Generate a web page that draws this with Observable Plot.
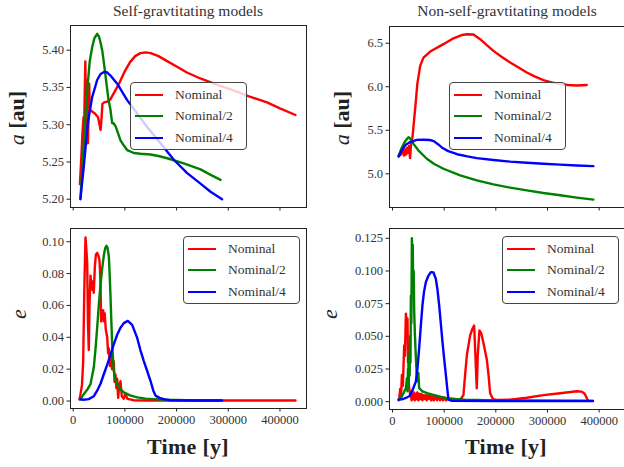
<!DOCTYPE html>
<html><head><meta charset="utf-8">
<script src="https://cdn.jsdelivr.net/npm/d3@7"></script>
<script src="https://cdn.jsdelivr.net/npm/@observablehq/plot@0.6"></script>
<style>
body{margin:0;background:#fff;}
#fig{position:relative;width:624px;height:467px;overflow:hidden;font-family:"Liberation Serif","DejaVu Serif",serif;color:#222;background:#fff;}
.panel{position:absolute;}
.title{position:absolute;font-size:15.5px;line-height:1;text-align:center;color:#333;white-space:nowrap;width:300px;}
.xlabel{position:absolute;font-size:22px;line-height:1;font-weight:bold;text-align:center;width:200px;color:#222;white-space:nowrap;letter-spacing:0.3px;}
.ylabel{position:absolute;font-size:22px;line-height:1;text-align:center;width:120px;height:24px;transform:rotate(-90deg);transform-origin:50% 50%;white-space:nowrap;color:#222;}
.legend{position:absolute;width:115px;height:66px;border:1px solid #444;border-radius:4px;background:rgba(255,255,255,0.8);}
.legend .row{position:absolute;left:0;height:20px;width:115px;}
.legend .sw{position:absolute;left:4px;top:9px;width:28px;height:2.2px;}
.legend .lt{position:absolute;left:44px;top:2px;font-size:13.5px;line-height:16px;color:#333;white-space:nowrap;}
</style></head>
<body><div id="fig"></div>
<script>
// ---- data ----
const seriesNames = ["Nominal", "Nominal/2", "Nominal/4"];
const seriesColors = ["red", "green", "blue"];
const xTicks = [0, 100000, 200000, 300000, 400000];
const titles = ["Self-gravtitating models", "Non-self-gravtitating models"];

// Self-gravitating: semi-major axis a [au]
const sgA_nominal = [[13000,5.22],[16000,5.26],[18000,5.29],[20000,5.31],[21000,5.28],[22000,5.33],[23500,5.385],[24500,5.32],[25500,5.36],[26500,5.28],[27500,5.35],[28500,5.275],[30000,5.32],[31000,5.355],[32000,5.32],[36000,5.318],[42000,5.315],[48000,5.31],[51000,5.30],[53000,5.293],[55000,5.31],[56500,5.328],[60000,5.330],[66000,5.331],[72000,5.334],[80000,5.344],[90000,5.357],[100000,5.372],[110000,5.384],[120000,5.392],[130000,5.396],[140000,5.397],[150000,5.396],[165000,5.392],[180000,5.386],[200000,5.378],[220000,5.370],[246000,5.362],[280000,5.353],[310000,5.346],[340000,5.338],[375000,5.330],[400000,5.322],[430000,5.313]];
const sgA_half = [[14000,5.201],[17000,5.235],[20500,5.275],[24000,5.315],[28200,5.355],[32000,5.385],[36700,5.404],[41000,5.416],[46400,5.422],[50000,5.418],[53000,5.41],[56100,5.40],[60000,5.38],[64400,5.355],[68000,5.335],[72100,5.32],[75400,5.302],[78000,5.302],[80000,5.30],[82000,5.298],[86000,5.29],[91500,5.279],[98000,5.272],[104400,5.266],[117200,5.262],[130000,5.261],[149500,5.260],[165000,5.258],[181800,5.255],[213900,5.248],[246300,5.240],[265000,5.233],[285000,5.226]];
const sgA_quarter = [[14000,5.200],[20500,5.244],[28200,5.302],[36700,5.337],[46400,5.360],[53000,5.368],[60500,5.371],[66000,5.370],[72100,5.366],[85100,5.355],[104400,5.333],[123800,5.315],[143100,5.297],[168900,5.275],[194600,5.253],[220500,5.235],[246300,5.221],[265600,5.210],[288000,5.200]];

// Non-self-gravitating: a [au]
const ngA_nominal = [[12000,5.20],[16000,5.22],[20000,5.27],[22000,5.21],[24000,5.28],[26000,5.22],[28000,5.30],[30000,5.24],[32000,5.32],[34000,5.18],[36000,5.35],[38700,5.42],[42000,5.63],[45300,5.84],[48000,6.03],[53600,6.24],[60000,6.335],[72900,6.404],[98600,6.489],[118000,6.557],[135000,6.595],[143900,6.603],[156700,6.60],[169600,6.546],[182000,6.48],[195400,6.412],[211000,6.345],[227700,6.278],[244000,6.22],[260000,6.164],[276000,6.117],[292100,6.077],[308000,6.05],[324400,6.03],[340000,6.02],[356700,6.015],[376000,6.02]];
const ngA_half = [[12000,5.21],[18000,5.30],[24000,5.37],[31000,5.42],[35000,5.40],[40600,5.344],[50000,5.27],[66500,5.173],[80000,5.115],[98600,5.058],[131000,4.982],[163200,4.924],[195400,4.879],[227700,4.841],[260000,4.81],[292100,4.779],[324400,4.753],[356700,4.727],[388800,4.704]];
const ngA_quarter = [[12000,5.20],[18000,5.27],[25000,5.33],[34200,5.365],[47000,5.39],[60000,5.392],[72000,5.388],[80000,5.375],[88000,5.34],[96000,5.30],[108000,5.26],[125000,5.225],[145000,5.20],[163200,5.18],[195400,5.158],[227700,5.14],[260000,5.127],[292100,5.115],[324400,5.105],[356700,5.096],[388800,5.088]];

// Self-gravitating: eccentricity e
const sgE_nominal = [[12000,0.001],[14000,0.004],[17000,0.010],[19300,0.025],[21500,0.07],[23800,0.1027],[25500,0.095],[27100,0.087],[28500,0.05],[30200,0.032],[31500,0.06],[33500,0.0787],[35500,0.07],[37500,0.075],[39800,0.068],[42000,0.085],[44000,0.092],[46400,0.093],[49000,0.091],[51000,0.088],[52800,0.075],[54000,0.05],[56100,0.056],[58000,0.057],[59200,0.05],[61000,0.055],[63000,0.045],[65800,0.04],[67500,0.03],[69000,0.033],[71000,0.022],[73000,0.03],[75000,0.02],[78500,0.025],[80000,0.012],[81800,0.0166],[83500,0.008],[85100,0.014],[87000,0.002],[89000,0.010],[91500,0.0124],[94000,0.003],[97900,0.0015],[101000,0.005],[104400,0.0015],[110000,0.001],[117200,0.0005],[140000,0.0003],[200000,0.0003],[300000,0.0003],[430000,0.0003]];
const sgE_half = [[14000,0.001],[20500,0.0043],[27000,0.007],[33500,0.0106],[39800,0.021],[43000,0.032],[46400,0.046],[49500,0.06],[52800,0.0727],[56000,0.083],[59200,0.0913],[62000,0.096],[64400,0.0975],[66500,0.096],[68900,0.091],[70500,0.08],[72100,0.0664],[73800,0.05],[75400,0.0354],[78500,0.0189],[82000,0.013],[85100,0.0106],[91000,0.0075],[97900,0.0054],[110000,0.0035],[123800,0.0023],[140000,0.0015],[155900,0.0012],[180000,0.0008],[220000,0.0005],[285000,0.0004]];
const sgE_quarter = [[14000,0.001],[20000,0.0008],[30000,0.0012],[40000,0.003],[46400,0.0065],[53000,0.011],[59200,0.0168],[66000,0.023],[72100,0.029],[78500,0.0355],[85100,0.0416],[91500,0.046],[97900,0.0489],[105600,0.0503],[114100,0.0478],[123800,0.0396],[130000,0.032],[136600,0.0251],[143000,0.019],[149500,0.0127],[155000,0.0065],[159200,0.0034],[167000,0.002],[175200,0.0012],[188000,0.0005],[250000,0.0003],[288000,0.0003]];

// Non-self-gravitating: e
const ngE_nominal = [[12000,0.001],[13000,0.0028],[15000,0.01],[16500,0.004],[18200,0.0205],[20000,0.012],[22600,0.043],[24000,0.035],[25900,0.0674],[27500,0.06],[29000,0.0636],[30000,0.03],[30900,0.033],[31500,0.015],[32300,0.0104],[34000,0.006],[35600,0.0053],[37000,0.001],[38000,0.006],[40000,0.002],[41500,0.007],[43000,0.001],[44500,0.006],[46000,0.002],[48000,0.007],[50000,0.001],[52000,0.006],[54000,0.002],[56000,0.006],[58000,0.001],[60000,0.005],[62000,0.002],[64000,0.005],[66000,0.001],[68000,0.005],[70000,0.002],[72500,0.005],[75000,0.001],[77500,0.004],[80000,0.001],[83000,0.004],[86000,0.001],[89000,0.004],[92000,0.001],[95000,0.003],[98000,0.001],[101000,0.003],[104000,0.001],[107000,0.003],[110000,0.0015],[120000,0.002],[131000,0.0015],[137300,0.005],[140000,0.018],[143900,0.0355],[150300,0.0507],[155000,0.056],[158000,0.0583],[160000,0.0406],[162000,0.02],[163200,0.0102],[165000,0.035],[168300,0.0545],[172000,0.052],[176000,0.045],[182600,0.032],[186000,0.02],[189000,0.0064],[194200,0.002],[201900,0.0013],[227700,0.0015],[260000,0.003],[292100,0.005],[324400,0.0064],[356700,0.0080],[366300,0.0077],[372000,0.006],[377200,0.0018],[379000,0.0005]];
const ngE_half = [[12000,0.0015],[18000,0.004],[22000,0.007],[25900,0.0104],[28000,0.018],[29000,0.008],[30000,0.025],[31000,0.012],[32300,0.0357],[33200,0.02],[34000,0.05],[34800,0.03],[35600,0.081],[36500,0.06],[37500,0.125],[38500,0.105],[39200,0.12],[40000,0.09],[41000,0.1],[42000,0.0687],[43500,0.05],[45300,0.0332],[47000,0.02],[48400,0.0155],[50000,0.022],[51600,0.0104],[55000,0.009],[58000,0.0079],[67000,0.0065],[77400,0.0053],[90000,0.004],[103300,0.0028],[120000,0.002],[140000,0.0015],[200000,0.001],[300000,0.0008],[388000,0.0006]];
const ngE_quarter = [[12000,0.0015],[20000,0.002],[27000,0.003],[32300,0.0041],[38000,0.008],[45300,0.0155],[48500,0.026],[51600,0.0408],[54800,0.058],[58000,0.0738],[61000,0.084],[64600,0.0915],[69000,0.096],[74300,0.0991],[79300,0.0988],[83900,0.094],[87000,0.086],[90300,0.0738],[93500,0.06],[96700,0.0459],[100000,0.033],[103300,0.0205],[106000,0.01],[108300,0.0015],[115000,0.0006],[200000,0.0005],[300000,0.0005],[388000,0.0005]];

const sgA_ticks = [5.20, 5.25, 5.30, 5.35, 5.40];
const ngA_ticks = [5.0, 5.5, 6.0, 6.5];
const sgE_ticks = [0, 0.02, 0.04, 0.06, 0.08, 0.10];
const ngE_ticks = [0, 0.025, 0.05, 0.075, 0.1, 0.125];

// ---- drawing ----
const fig = document.getElementById("fig");
const FONT = "Liberation Serif, DejaVu Serif, serif";

function makePanel(o) {
  const lines = o.series.map((s, i) => Plot.line(s, {x: d => d[0], y: d => d[1], stroke: seriesColors[i], strokeWidth: 2.4}));
  const p = Plot.plot({
    width: o.w, height: o.h,
    marginLeft: o.ml, marginRight: o.mr, marginTop: o.mt, marginBottom: o.mb,
    style: {fontFamily: FONT, fontSize: "12.5px", color: "#333", background: "transparent", overflow: "visible"},
    x: {domain: o.xDomain},
    y: {domain: o.yDomain},
    marks: [
      Plot.axisX({ticks: xTicks, tickSize: 3.5, tickPadding: 3, tickFormat: o.xLabels ? d3.format("d") : () => "", label: null, stroke: "#222"}),
      Plot.axisY({ticks: o.yTicks, tickSize: 3.5, tickPadding: 3, tickFormat: d3.format(o.yFmt), label: null, stroke: "#222"}),
      ...lines,
      Plot.frame({stroke: "#222", strokeWidth: 1})
    ]
  });
  p.classList.add("panel");
  p.style.left = o.left + "px";
  p.style.top = o.top + "px";
  fig.appendChild(p);
}

makePanel({series: [sgA_nominal, sgA_half, sgA_quarter], left: 0, top: 0, w: 310, h: 215, ml: 70, mr: 4, mt: 25, mb: 8,
  xDomain: [-5200, 451300], yDomain: [5.1889, 5.4331], yTicks: sgA_ticks, yFmt: ".2f", xLabels: false});
makePanel({series: [ngA_nominal, ngA_half, ngA_quarter], left: 310, top: 0, w: 330, h: 215, ml: 79, mr: 15, mt: 26, mb: 8,
  xDomain: [-5800, 451000], yDomain: [4.613, 6.692], yTicks: ngA_ticks, yFmt: ".1f", xLabels: false});
makePanel({series: [sgE_nominal, sgE_half, sgE_quarter], left: 0, top: 210, w: 310, h: 257, ml: 70, mr: 4, mt: 18, mb: 59,
  xDomain: [-5200, 451300], yDomain: [-0.0047, 0.1083], yTicks: sgE_ticks, yFmt: ".2f", xLabels: true});
makePanel({series: [ngE_nominal, ngE_half, ngE_quarter], left: 310, top: 210, w: 330, h: 257, ml: 79, mr: 15, mt: 18, mb: 58,
  xDomain: [-5800, 451000], yDomain: [-0.006, 0.1325], yTicks: ngE_ticks, yFmt: ".3f", xLabels: true});

function addDiv(cls, html, css) {
  const d = document.createElement("div");
  d.className = cls;
  d.innerHTML = html;
  Object.assign(d.style, css);
  fig.appendChild(d);
  return d;
}
// titles
addDiv("title", titles[0], {left: (188 - 150) + "px", top: "3px"});
addDiv("title", titles[1], {left: (507 - 150) + "px", top: "3px"});
// x labels
addDiv("xlabel", "Time [y]", {left: (188 - 100) + "px", top: "436px"});
addDiv("xlabel", "Time [y]", {left: (506 - 100) + "px", top: "436px"});
// y labels
addDiv("ylabel", "<i>a</i> <b>[au]</b>", {left: (18 - 60) + "px", top: (118 - 12) + "px"});
addDiv("ylabel", "<i>a</i> <b>[au]</b>", {left: (343 - 60) + "px", top: (118 - 12) + "px"});
addDiv("ylabel", "<i>e</i>", {left: (20 - 60) + "px", top: (314 - 12) + "px"});
addDiv("ylabel", "<i>e</i>", {left: (331 - 60) + "px", top: (314 - 12) + "px"});

// legends
function legend(x, y) {
  const box = addDiv("legend", "", {left: x + "px", top: y + "px"});
  seriesNames.forEach((name, i) => {
    const r = document.createElement("div");
    r.className = "row";
    r.style.top = (2 + i * 21.3) + "px";
    r.innerHTML = `<div class="sw" style="background:${seriesColors[i]}"></div><div class="lt">${name}</div>`;
    box.appendChild(r);
  });
}
legend(130, 82);
legend(449, 82);
legend(183, 236);
legend(502, 236);
</script>
</body></html>
